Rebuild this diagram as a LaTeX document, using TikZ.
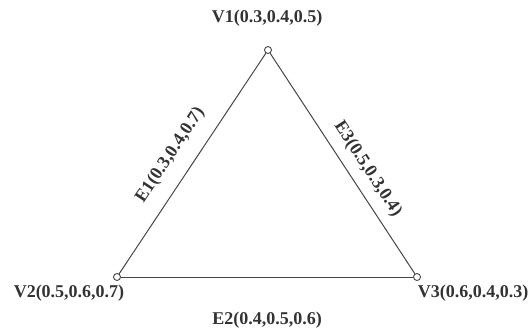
\documentclass[tikz,border=0pt]{standalone}
\usepackage{fontspec}
\setmainfont{Liberation Serif}
\usepackage{xcolor}
\usetikzlibrary{positioning,calc}
\definecolor{edgecolor}{RGB}{70, 70, 70}

\begin{document}
\begin{tikzpicture}[x=1pt,y=1pt,every node/.style={font=\fontsize{18}{20}\selectfont\bfseries,text=black!80},
  vert/.style={draw=edgecolor,fill=white,circle,inner sep=0pt,minimum size=7pt,line width=0.9pt},
  edge/.style={draw=edgecolor,line width=1pt}]
\useasboundingbox (0,0) rectangle (529,327);
\node[vert](v1) at (268,277){};
\node[vert](v2) at (117,50){};
\node[vert](v3) at (417,50){};
\node(l1) at (267,309){V1(0.3,0.4,0.5)};
\node(l2) at (69,34){V2(0.5,0.6,0.7)};
\node(l3) at (473,34){V3(0.6,0.4,0.3)};
\draw[edge](v2)--(v1) node[pos=0.48,sloped,above=11pt]{E1(0.3,0.4,0.7)};
\draw[edge](v1)--(v3) node[pos=0.57,sloped,above=6pt]{E3(0.5,0.3,0.4)};
\draw[edge](v2)--(v3) node[midway,below=31pt]{E2(0.4,0.5,0.6)};
\end{tikzpicture}
\end{document}
